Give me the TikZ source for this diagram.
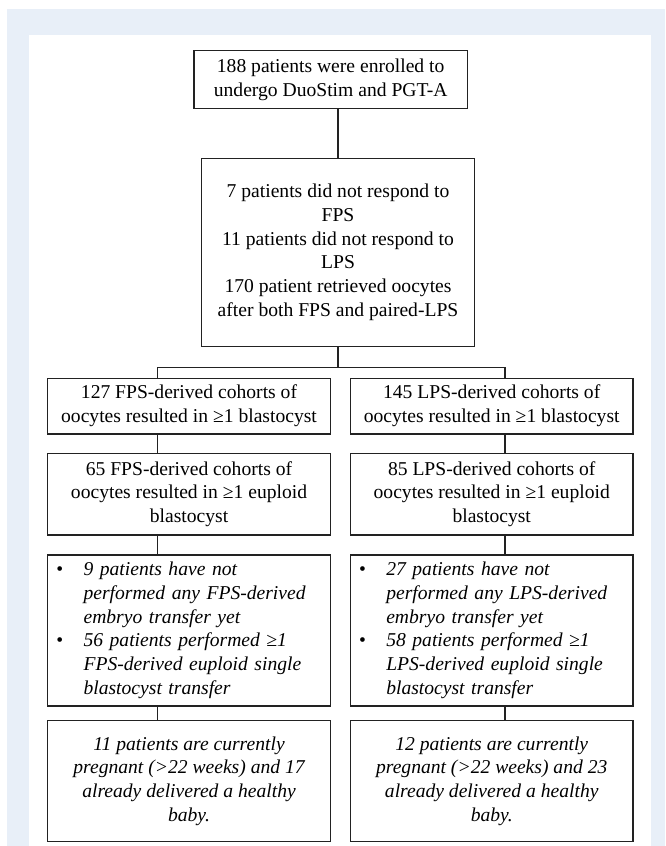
\documentclass[tikz,border=0pt]{standalone}
\usepackage{fontspec}
\setmainfont{Liberation Serif}
\usetikzlibrary{positioning,calc}
\definecolor{ink}{HTML}{222222}
\definecolor{wash}{HTML}{E8EFF8}
\newcommand\bul{\makebox[13.6pt][l]{\upshape •}}
\newcommand\ind{\hspace*{13.6pt}}

\begin{document}
\begin{tikzpicture}[node distance=10pt,
 box/.style={draw=ink,line width=0.7pt,outer sep=0pt,fill=white,align=center,inner sep=2pt,font=\fontsize{9.8}{11.9}\selectfont},
 colbox/.style={box,minimum width=141.25pt},
 listbox/.style={colbox,text width=132.65pt,inner xsep=4.3pt,align=left,font=\fontsize{9.8}{11.9}\selectfont\itshape},
 outbox/.style={colbox,font=\fontsize{9.8}{11.9}\selectfont\itshape},
 link/.style={draw=ink,line width=0.7pt}]
\useasboundingbox (0,0) rectangle (332.5pt,-423pt);
\fill[wash] (3.5pt,-4.5pt) rectangle (332.5pt,-423pt);
\fill[white] (14.5pt,-17.5pt) rectangle (325.5pt,-423pt);

% top of the chart
\node[box,minimum width=136.65pt,minimum height=28.8pt] (enrol) at (165.33pt,-39.75pt) {188 patients were enrolled to\\undergo DuoStim and PGT-A};
\node[box,minimum width=136.3pt,minimum height=94pt,below=25pt of enrol,xshift=3.68pt] (resp) {7 patients did not respond to\\FPS\\11 patients did not respond to\\LPS\\170 patient retrieved oocytes\\after both FPS and paired-LPS};

% FPS column
\node[colbox,minimum height=27.85pt,below=15.95pt of resp,xshift=-74.5pt] (fps1) {127 FPS-derived cohorts of\\oocytes resulted in ≥1 blastocyst};
\node[colbox,minimum height=40.85pt,below=9.65pt of fps1] (fps2) {65 FPS-derived cohorts of\\oocytes resulted in ≥1 euploid\\blastocyst};
\node[listbox,minimum height=75.5pt,below=10pt of fps2] (fps3) {\bul 9 patients have not\\\ind performed any FPS-derived\\\ind embryo transfer yet\\\bul 56 patients performed ≥1\\\ind FPS-derived euploid single\\\ind blastocyst transfer};
\node[outbox,minimum height=60.5pt,below=7.35pt of fps3] (fps4) {11 patients are currently\\pregnant (>22 weeks) and 17\\already delivered a healthy\\baby.};

% LPS column
\node[colbox,minimum height=27.85pt,right=10.1pt of fps1] (lps1) {145 LPS-derived cohorts of\\oocytes resulted in ≥1 blastocyst};
\node[colbox,minimum height=40.85pt,right=10.1pt of fps2] (lps2) {85 LPS-derived cohorts of\\oocytes resulted in ≥1 euploid\\blastocyst};
\node[listbox,minimum height=75.5pt,right=10.1pt of fps3] (lps3) {\bul 27 patients have not\\\ind performed any LPS-derived\\\ind embryo transfer yet\\\bul 58 patients performed ≥1\\\ind LPS-derived euploid single\\\ind blastocyst transfer};
\node[outbox,minimum height=60.5pt,right=10.1pt of fps4] (lps4) {12 patients are currently\\pregnant (>22 weeks) and 23\\already delivered a healthy\\baby.};

% connectors
\coordinate (split) at ($(resp.south)+(0,-10.45pt)$);
\coordinate (fpsline) at ($(fps1.north)+(-15.85pt,0)$);
\coordinate (lpsline) at ($(lps1.north)+(6.6pt,0)$);
\draw[link] (enrol.south -| resp.north) -- (resp.north);
\draw[link] (resp.south) -- (split);
\draw[link] (fpsline) |- (split) -| (lpsline);
\foreach \a/\b in {1/2,2/3,3/4}{
 \draw[link] (fps\a.south -| fpsline) -- (fps\b.north -| fpsline);
 \draw[link] (lps\a.south -| lpsline) -- (lps\b.north -| lpsline);
}
\end{tikzpicture}
\end{document}
